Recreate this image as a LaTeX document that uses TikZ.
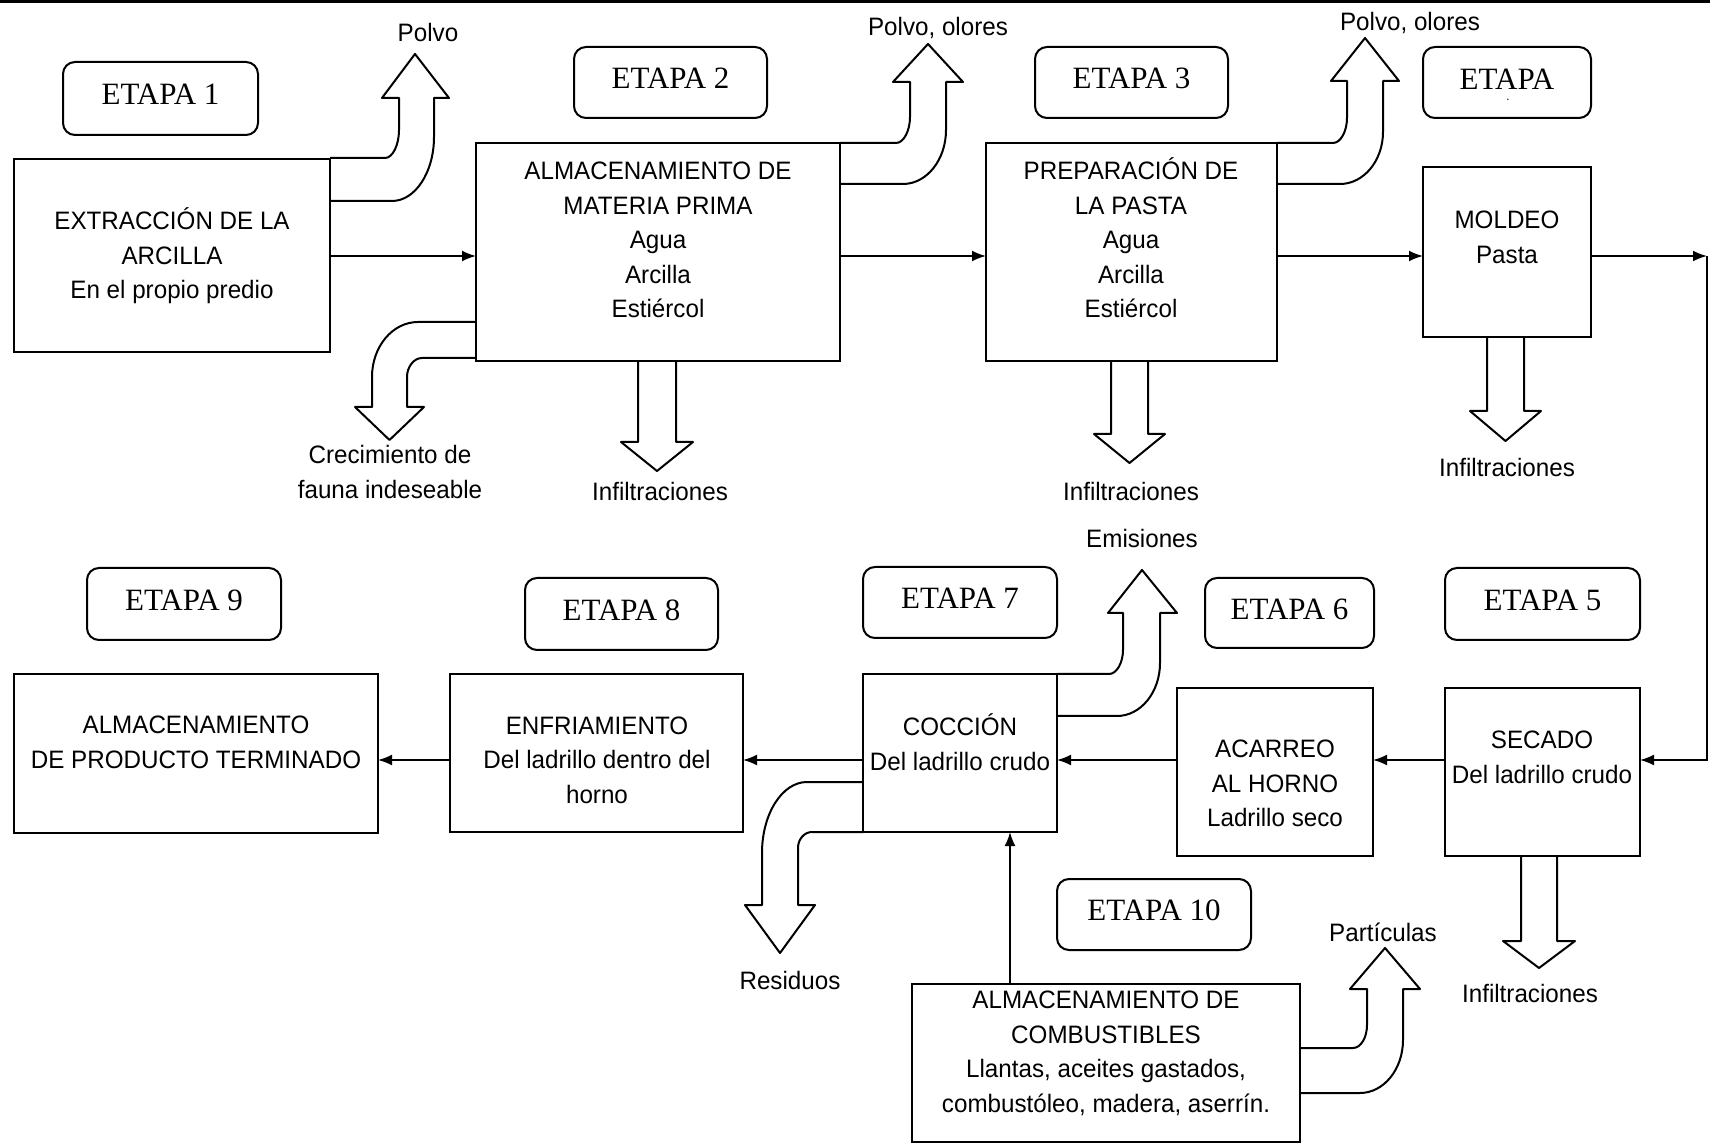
\documentclass[tikz,border=0pt]{standalone}
\usepackage{fontspec}
\setmainfont{Liberation Sans}[FakeStretch=0.96]
\newfontfamily\etfont{Liberation Serif}
\usetikzlibrary{arrows.meta}
\begin{document}
\begin{tikzpicture}[x=0.5pt,y=-0.5pt,
  bx/.style 2 args={draw, line width=1pt, minimum width=#1*0.5pt, minimum height=#2*0.5pt, inner sep=0pt, outer sep=0pt},
  et/.style 2 args={draw, line width=1pt, rounded corners=6pt, minimum width=#1*0.5pt, minimum height=#2*0.5pt, inner sep=0pt, outer sep=0pt, text height=10.3pt, text depth=4pt, font=\etfont\fontsize{15.5pt}{18pt}\selectfont},
  tx/.style={align=center, inner sep=0pt, font=\fontsize{12.6pt}{17.25pt}\selectfont},
  arr/.style={line width=0.9pt, -{Latex[length=7pt,width=5.5pt]}},
  blk/.style={line width=1pt, line join=round},
]
\useasboundingbox (0,0) rectangle (1710,1144);
\draw[line width=1.2pt] (0,1.5) -- (1710,1.5);

% ETAPA labels
\node[et={195}{73}] (e1) at (160.5,98.5) {ETAPA 1};
\node[et={193}{71}] (e2) at (670.5,82.5) {ETAPA 2};
\node[et={193}{71}] (e3) at (1131.5,82.5) {ETAPA 3};
\node[et={168}{71}] (e4) at (1507,82.5) {};
\node[font=\etfont\fontsize{15.5pt}{18pt}\selectfont, inner sep=0pt] (e4t) at (1507,79) {ETAPA};
\node[inner sep=0pt, font=\fontsize{6pt}{6pt}\selectfont] (e4d) at (1508,100) {.};
\node[et={194}{72}] (e9) at (184,604) {ETAPA 9};
\node[et={193}{72}] (e8) at (621.5,614) {ETAPA 8};
\node[et={194}{71}] (e7) at (960,602.5) {ETAPA 7};
\node[et={169}{70}] (e6) at (1289.5,613) {ETAPA 6};
\node[et={195}{72}] (e5) at (1542.5,604) {ETAPA 5};
\node[et={194}{71}] (e10) at (1154,914.5) {ETAPA 10};

% process boxes
\node[bx={316}{193}] (b1) at (172,255.5) {};
\node[bx={364}{218}] (b2) at (658,252) {};
\node[bx={291}{218}] (b3) at (1131.5,252) {};
\node[bx={168}{170}] (b4) at (1507,252) {};
\node[bx={364}{159}] (b9) at (196,753.5) {};
\node[bx={293}{158}] (b8) at (596.5,753) {};
\node[bx={194}{158}] (b7) at (960,753) {};
\node[bx={196}{168}] (b6) at (1275,772) {};
\node[bx={195}{168}] (b5) at (1542.5,772) {};
\node[bx={388}{158}] (b10) at (1106,1063) {};

% box texts
\node[tx] (b1t) at (172,256) {EXTRACCIÓN DE LA\\ARCILLA\\En el propio predio};
\node[tx] (b2t) at (658,240) {ALMACENAMIENTO DE\\MATERIA PRIMA\\Agua\\Arcilla\\Estiércol};
\node[tx] (b3t) at (1131,238) {PREPARACIÓN DE\\LA PASTA\\Agua\\Arcilla\\Estiércol};
\node[tx] (b4t) at (1507,237.5) {MOLDEO\\Pasta};
\node[tx] (b9t) at (196,742.5) {ALMACENAMIENTO\\DE PRODUCTO TERMINADO};
\node[tx] (b8t) at (597,760) {ENFRIAMIENTO\\Del ladrillo dentro del\\horno};
\node[tx] (b7t) at (960,742) {COCCIÓN\\Del ladrillo crudo};
\node[tx] (b6t) at (1275,783.5) {ACARREO\\AL HORNO\\Ladrillo seco};
\node[tx] (b5t) at (1542,757.5) {SECADO\\Del ladrillo crudo};
\node[tx] (b10t) at (1106,1053.5) {ALMACENAMIENTO DE\\COMBUSTIBLES\\Llantas, aceites gastados,\\combustóleo, madera, aserrín.};

% flow connectors
\coordinate (row1) at (0,256);
\coordinate (row2) at (0,760);
\coordinate (cR1) at (1707,256);
\coordinate (cR2) at (1707,760);
\coordinate (cV) at (1010,0);
\draw[arr] (b1.east |- row1) -- (b2.west |- row1);
\draw[arr] (b2.east |- row1) -- (b3.west |- row1);
\draw[arr] (b3.east |- row1) -- (b4.west |- row1);
\draw[arr] (b4.east |- row1) -- (cR1);
\draw[arr] (cR1) -- (cR2) -- (b5.east |- row2);
\draw[arr] (b5.west |- row2) -- (b6.east |- row2);
\draw[arr] (b6.west |- row2) -- (b7.east |- row2);
\draw[arr] (b7.west |- row2) -- (b8.east |- row2);
\draw[arr] (b8.west |- row2) -- (b9.east |- row2);
\draw[arr] (b10.north -| cV) -- (b7.south -| cV);

% bent block arrows (up)
\draw[blk] (330,158) -- (385,158) .. controls (392.7,158) and (399,144.9) .. (399,130) -- (399,98) -- (382,98) -- (415,54) -- (449,98) -- (434,98) -- (434,137) .. controls (434,172.3) and (415.2,201) .. (392,201) -- (330,201);
\draw[blk] (840,143) -- (896,143) .. controls (903.7,143) and (910,130.8) .. (910,117) -- (910,82) -- (893,82) -- (928,44) -- (963,82) -- (946,82) -- (946,130) .. controls (946,159.8) and (926.7,184) .. (903,184) -- (840,184);
\draw[blk] (1277,143) -- (1333,143) .. controls (1340.7,143) and (1347,131.2) .. (1347,118) -- (1347,81) -- (1331,81) -- (1365,38) -- (1399,81) -- (1383,81) -- (1383,132) .. controls (1383,160.7) and (1363.7,184) .. (1340,184) -- (1277,184);
\draw[blk] (1057,674) -- (1109,674) .. controls (1116.7,674) and (1123,662.7) .. (1123,650) -- (1123,613) -- (1108,613) -- (1142,570) -- (1177,613) -- (1160,613) -- (1160,663) .. controls (1160,692.3) and (1140.7,716) .. (1117,716) -- (1057,716);
\draw[blk] (1300,1048) -- (1353,1048) .. controls (1360.7,1048) and (1367,1037.7) .. (1367,1025) -- (1367,989) -- (1350,989) -- (1385,948) -- (1420,989) -- (1403,989) -- (1403,1040) .. controls (1403,1069.3) and (1383.7,1093) .. (1360,1093) -- (1300,1093);

% bent block arrows (down-left)
\draw[blk] (476,322) -- (418,322) .. controls (392.6,322) and (372,346.6) .. (372,377) -- (372,407) -- (355,407) -- (389.5,440) -- (424,407) -- (407,407) -- (407,377) .. controls (407,367.1) and (413.7,358) .. (422,358) -- (476,358);
\draw[blk] (863,782) -- (807,782) .. controls (782.2,782) and (762,813.8) .. (762,853) -- (762,905) -- (745,905) -- (780,953) -- (815,905) -- (798,905) -- (798,848) .. controls (798,839.2) and (804.3,832) .. (812,832) -- (863,832);

% straight block arrows (down)
\draw[blk] (638,361) -- (638,442) -- (621,442) -- (657,471) -- (693,442) -- (676,442) -- (676,361);
\draw[blk] (1111,361) -- (1111,434) -- (1094,434) -- (1129.5,463) -- (1165,434) -- (1148,434) -- (1148,361);
\draw[blk] (1487,337) -- (1487,411) -- (1470,411) -- (1505.5,441) -- (1541,411) -- (1524,411) -- (1524,337);
\draw[blk] (1521,856) -- (1521,941) -- (1503,941) -- (1539,968) -- (1575,941) -- (1557,941) -- (1557,856);

% labels
\node[tx] (lp1) at (428,32) {Polvo};
\node[tx] (lp2) at (938,28) {Polvo, olores};
\node[tx] (lp3) at (1410,23) {Polvo, olores};
\node[tx] (lcr) at (390,472) {Crecimiento de\\fauna indeseable};
\node[tx] (li2) at (660,491) {Infiltraciones};
\node[tx] (li3) at (1131,491) {Infiltraciones};
\node[tx] (li4) at (1507,467) {Infiltraciones};
\node[tx] (li5) at (1530,993) {Infiltraciones};
\node[tx] (lem) at (1142,538) {Emisiones};
\node[tx] (lre) at (790,980) {Residuos};
\node[tx] (lpa) at (1383,932) {Partículas};
\end{tikzpicture}
\end{document}
